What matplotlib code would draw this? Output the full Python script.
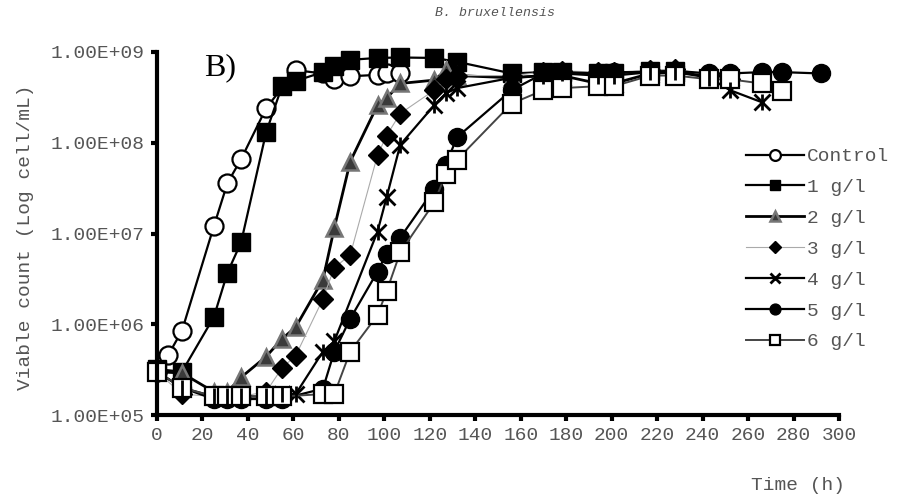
import numpy as np
import matplotlib
matplotlib.use("Agg")
import matplotlib.pyplot as plt
from matplotlib.ticker import FixedLocator, FuncFormatter, NullLocator

plt.rcParams['font.family'] = ['Liberation Mono', 'DejaVu Sans Mono']

# 数据
t_control = [0, 5, 11, 25, 31, 37, 48, 61, 73, 78, 85, 97, 101, 107]
v_control = [3.0e5, 4.6e5, 8.5e5, 1.2e7, 3.6e7, 6.6e7, 2.4e8, 6.3e8, 5.8e8, 5.0e8, 5.4e8, 5.6e8, 5.8e8, 5.8e8]

t_1 = [0, 11, 25, 31, 37, 48, 55, 61, 73, 78, 85, 97, 107, 122, 132, 156, 170, 178, 194, 201, 217, 228]
v_1 = [3.2e5, 3.0e5, 1.2e6, 3.7e6, 8.0e6, 1.3e8, 4.2e8, 4.8e8, 6.0e8, 7.0e8, 8.2e8, 8.6e8, 8.7e8, 8.6e8, 7.8e8,
       5.8e8, 6.0e8, 6.0e8, 5.8e8, 5.8e8, 6.2e8, 6.2e8]

t_2 = [0, 11, 25, 31, 37, 48, 55, 61, 73, 78, 85, 97, 101, 107, 122, 127, 132, 156, 170, 178, 194, 201, 217, 228, 243, 252]
v_2 = [3.0e5, 2.9e5, 1.8e5, 1.8e5, 2.6e5, 4.4e5, 6.9e5, 9.3e5, 3.1e6, 1.15e7, 6.2e7, 2.6e8, 3.1e8, 4.5e8, 4.9e8,
       6.3e8, 5.5e8, 5.2e8, 5.5e8, 5.5e8, 4.5e8, 4.5e8, 5.8e8, 6.0e8, 5.5e8, 5.5e8]

t_3 = [0, 11, 25, 31, 37, 48, 55, 61, 73, 78, 85, 97, 101, 107, 122, 127, 132, 156, 170, 178, 194, 201, 217, 228, 243, 252]
v_3 = [3.0e5, 1.7e5, 1.6e5, 1.6e5, 1.6e5, 1.8e5, 3.3e5, 4.5e5, 1.9e6, 4.2e6, 5.8e6, 7.3e7, 1.2e8, 2.1e8, 3.8e8,
       5.0e8, 5.5e8, 5.5e8, 6.0e8, 6.2e8, 6.0e8, 6.0e8, 6.3e8, 6.5e8, 5.5e8, 5.0e8]

t_4 = [0, 11, 25, 31, 37, 48, 55, 61, 73, 78, 97, 101, 107, 122, 127, 132, 156, 170, 178, 194, 201, 217, 228, 243, 252, 266]
v_4 = [3.0e5, 2.0e5, 1.6e5, 1.6e5, 1.6e5, 1.6e5, 1.7e5, 1.7e5, 5.0e5, 6.5e5, 1.05e7, 2.5e7, 9.5e7, 2.6e8, 3.5e8,
       4.0e8, 5.2e8, 5.5e8, 5.8e8, 5.5e8, 5.5e8, 6.0e8, 6.0e8, 5.2e8, 3.8e8, 2.8e8]

t_5 = [0, 11, 25, 31, 37, 48, 55, 73, 78, 85, 97, 101, 107, 122, 127, 132, 156, 170, 178, 194, 201, 217, 228, 243,
       252, 266, 275, 292]
v_5 = [3.0e5, 2.0e5, 1.5e5, 1.5e5, 1.5e5, 1.5e5, 1.5e5, 1.95e5, 5.0e5, 1.15e6, 3.8e6, 6.0e6, 9.0e6, 3.1e7, 5.7e7,
       1.15e8, 3.8e8, 5.8e8, 6.0e8, 5.8e8, 6.0e8, 6.0e8, 6.2e8, 5.8e8, 5.8e8, 6.0e8, 6.0e8, 5.8e8]

t_6 = [0, 11, 25, 31, 37, 48, 55, 73, 78, 85, 97, 101, 107, 122, 127, 132, 156, 170, 178, 194, 201, 217, 228, 243,
       252, 266, 275]
v_6 = [3.0e5, 2.0e5, 1.6e5, 1.6e5, 1.6e5, 1.6e5, 1.6e5, 1.7e5, 1.7e5, 5.0e5, 1.26e6, 2.3e6, 6.2e6, 2.2e7, 4.5e7,
       6.5e7, 2.7e8, 3.8e8, 4.0e8, 4.2e8, 4.2e8, 5.5e8, 5.5e8, 5.0e8, 5.0e8, 4.5e8, 3.7e8]

labels = ['Control', '1 g/l', '2 g/l', '3 g/l', '4 g/l', '5 g/l', '6 g/l']
x_ticks = list(range(0, 301, 20))
y_ticks = [1e5, 1e6, 1e7, 1e8, 1e9]

gray = '#555555'

fig = plt.figure(figsize=(9.09, 5.0), dpi=100)
ax = fig.add_axes([0.1727, 0.17, 0.7503, 0.726])

ax.plot(t_control, v_control, '-o', color='black', lw=1.6, ms=13, mfc='white', mec='black', mew=1.6, label=labels[0])
ax.plot(t_1, v_1, '-s', color='black', lw=1.6, ms=13, mfc='black', mec='black', label=labels[1])
ax.plot(t_2, v_2, '-^', color='black', lw=2.0, ms=12, mfc='#3a3a3a', mec='#777777', mew=1.8, label=labels[2])
ax.plot(t_3, v_3, '-D', color='#aaaaaa', lw=0.8, ms=10, mfc='black', mec='black', label=labels[3])
ax.plot(t_4, v_4, '-x', color='black', lw=1.6, ms=12, mec='black', mew=2.0, label=labels[4])
ax.plot(t_5, v_5, '-o', color='black', lw=1.6, ms=13, mfc='black', mec='black', label=labels[5])
ax.plot(t_6, v_6, '-s', color='#444444', lw=1.4, ms=13, mfc='white', mec='black', mew=1.6, label=labels[6])
# 4 g/l 用星号：在 x 上叠加竖线
ax.plot(t_4, v_4, ls='none', marker='|', ms=12, mec='black', mew=2.0)

ax.set_yscale('log')
ax.set_xlim(0, 300)
ax.set_ylim(1e5, 1e9)
ax.xaxis.set_major_locator(FixedLocator(x_ticks))
ax.yaxis.set_major_locator(FixedLocator(y_ticks))
ax.yaxis.set_minor_locator(NullLocator())
ax.yaxis.set_major_formatter(FuncFormatter(lambda v, p: f"{v:.2E}"))

for s in ['top', 'right']:
    ax.spines[s].set_visible(False)
for s in ['left', 'bottom']:
    ax.spines[s].set_linewidth(3)
ax.tick_params(direction='out', length=4, width=3, labelsize=14, labelcolor=gray, pad=5)

for ln in ax.lines:
    ln.set_clip_on(False)

fig.text(0.545, 0.975, 'B. bruxellensis', ha='center', va='center', fontsize=9.5,
         style='italic', color=gray)
fig.text(0.225, 0.865, 'B)', fontsize=23, family='Liberation Serif', color='black', va='center')
fig.text(0.93, 0.03, 'Time (h)', ha='right', va='center', fontsize=14, color=gray)
fig.text(0.028, 0.525, 'Viable count (Log cell/mL)', rotation=90, ha='center', va='center', fontsize=14, color=gray)

handles, labs = ax.get_legend_handles_labels()
leg = fig.legend(handles, labs, loc='upper left', bbox_to_anchor=(0.812, 0.72), frameon=False,
                 fontsize=14, handlelength=3.0, handletextpad=0.15, labelspacing=0.68, markerscale=0.6,
                 borderaxespad=0)
for txt in leg.get_texts():
    txt.set_color(gray)

fig.savefig('out.png', dpi=100)
